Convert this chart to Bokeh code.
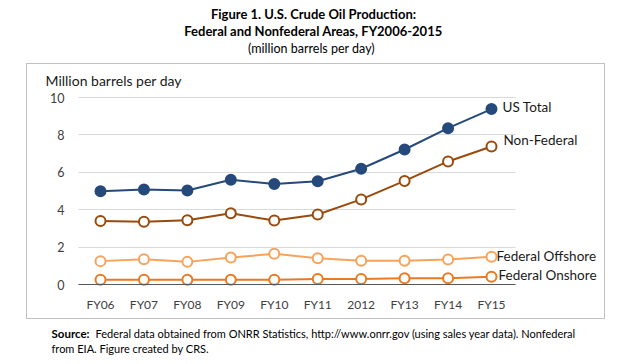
from bokeh.plotting import figure
from bokeh.models import (Range1d, FixedTicker, Label, BoxAnnotation, ColumnDataSource,
                          LinearAxis, Grid)
from bokeh.embed import file_html
from bokeh.resources import INLINE

years = ["FY06", "FY07", "FY08", "FY09", "FY10", "FY11", "2012", "FY13", "FY14", "FY15"]
us_total = [4.99, 5.08, 5.03, 5.60, 5.38, 5.52, 6.19, 7.22, 8.36, 9.38]
non_federal = [3.39, 3.35, 3.44, 3.81, 3.42, 3.74, 4.55, 5.54, 6.58, 7.38]
fed_offshore = [1.25, 1.35, 1.21, 1.44, 1.64, 1.41, 1.27, 1.27, 1.34, 1.48]
fed_onshore = [0.25, 0.25, 0.25, 0.25, 0.25, 0.30, 0.29, 0.33, 0.33, 0.41]
y_ticks = [0, 2, 4, 6, 8, 10]

FONT = "Lato"
W, H = 626, 356
xs = list(range(len(years)))

# pixel geometry of the plot area inside the canvas
PX0, PX9 = 100.0, 491.0       # x pixel of first / last category
PY0, PY10 = 284.0, 97.0       # y pixel of value 0 / value 10
AREA_L, AREA_R = 78.0, 515.0  # left / right pixel of plot area
kx = (PX9 - PX0) / 9.0
ky = (PY0 - PY10) / 10.0
x_start = -PX0 / kx
x_end = 9 + (W - PX9) / kx
y_end = 10 + PY10 / ky
y_start = -(H - PY0) / ky
xa_l = (AREA_L - PX0) / kx
xa_r = (AREA_R - PX0) / kx

p = figure(width=W, height=H, output_backend="svg", toolbar_location=None, title=None,
           x_range=Range1d(x_start, x_end), y_range=Range1d(y_start, y_end),
           x_axis_location=None, y_axis_location=None,
           min_border_left=0, min_border_right=0, min_border_top=0, min_border_bottom=0)
p.outline_line_color = None
p.background_fill_color = "white"
p.border_fill_color = "white"
p.grid.visible = False

grid_kw = dict(dimension=1, ticker=FixedTicker(ticks=y_ticks),
               grid_line_color="#d9d9d9", grid_line_width=1)
if "cross_bounds" in Grid.properties():
    grid_kw["cross_bounds"] = (xa_l, xa_r)
    p.add_layout(Grid(**grid_kw))
else:
    p.segment(x0=[xa_l] * len(y_ticks), y0=y_ticks, x1=[xa_r] * len(y_ticks), y1=y_ticks,
              line_color="#d9d9d9", line_width=1)

xaxis = LinearAxis(fixed_location=0, ticker=FixedTicker(ticks=xs),
                   major_label_overrides={i: t for i, t in enumerate(years)},
                   bounds=(xa_l, xa_r), axis_line_color="#595959", axis_line_width=1,
                   major_tick_line_color=None, minor_tick_line_color=None,
                   major_label_standoff=6, major_label_text_font=FONT,
                   major_label_text_font_size="12px", major_label_text_color="#404040")
p.add_layout(xaxis, "below")

yaxis = LinearAxis(fixed_location=xa_l, ticker=FixedTicker(ticks=y_ticks),
                   axis_line_color=None, major_tick_line_color=None, minor_tick_line_color=None,
                   major_label_standoff=8, major_label_text_font=FONT,
                   major_label_text_font_size="12.5px", major_label_text_color="#404040")
p.add_layout(yaxis, "left")

series = [
    ("US Total", us_total, "#24497a", "#24497a", 11, 2),
    ("Non-Federal", non_federal, "#9a4a0c", "white", 12, 6),
    ("Federal Offshore", fed_offshore, "#f8a35c", "white", 5, 1),
    ("Federal Onshore", fed_onshore, "#ea7a22", "white", 7, 2),
]

for name, vals, col, fill, dx, dy in series:
    src = ColumnDataSource(dict(x=xs, y=vals))
    p.line("x", "y", source=src, line_color=col, line_width=2)
    p.scatter("x", "y", source=src, size=10, line_color=col, fill_color=fill, line_width=2)
    p.add_layout(Label(x=xs[-1], y=vals[-1], x_offset=dx, y_offset=dy, text=name,
                       text_font=FONT, text_font_size="13.5px", text_color="#1a1a1a",
                       text_baseline="middle", text_align="left"))

# chart box (screen units, origin bottom-left of canvas)
p.add_layout(BoxAnnotation(left=26, right=604, top=H - 63, bottom=H - 318,
                           left_units="screen", right_units="screen",
                           top_units="screen", bottom_units="screen",
                           fill_alpha=0, line_color="#333333", line_width=1))

def lab(txt, x, y, size, bold=False, align="left", color="#1a1a1a"):
    p.add_layout(Label(x=x, y=H - y, x_units="screen", y_units="screen", text=txt,
                       text_font=FONT, text_font_size=size,
                       text_font_style="bold" if bold else "normal",
                       text_align=align, text_baseline="middle", text_color=color))

lab("Million barrels per day", 45, 80, "14px")
lab("Figure 1. U.S. Crude Oil Production:", 313, 13, "13px", bold=True, align="center", color="black")
lab("Federal and Nonfederal Areas, FY2006-2015", 313, 30, "13px", bold=True, align="center", color="black")
lab("(million barrels per day)", 311, 48, "12.5px", align="center", color="black")
lab("Source:", 51, 333, "11.5px", bold=True, color="black")
lab("Federal data obtained from ONRR Statistics, http://www.onrr.gov (using sales year data). Nonfederal",
    95, 333, "11px", color="black")
lab("from EIA. Figure created by CRS.", 51, 348, "11px", color="black")

open("out.html", "w").write(file_html(p, INLINE))
